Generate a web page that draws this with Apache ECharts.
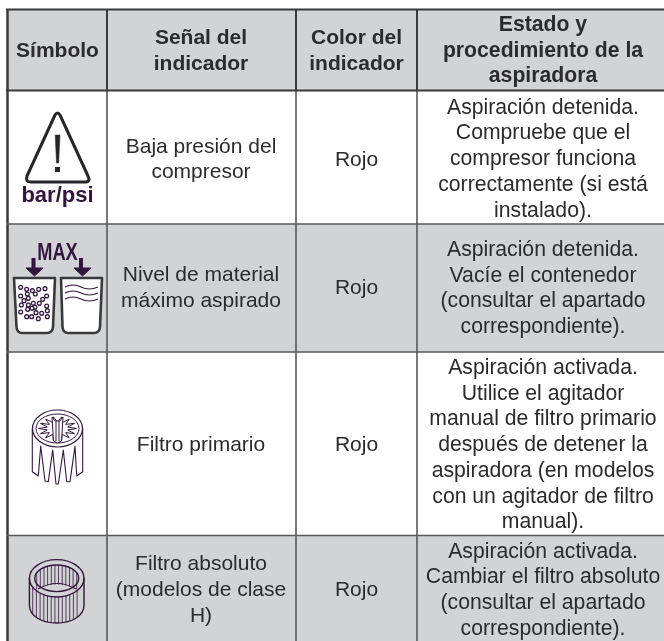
<!DOCTYPE html>
<html>
<head>
<meta charset="utf-8">
<style>html,body{margin:0;padding:0;background:#fff}#chart{width:664px;height:641px}</style>
<script src="https://cdn.jsdelivr.net/npm/echarts@6/dist/echarts.min.js"></script>
</head>
<body>
<div id="chart"></div>
<script>
var headers = [['Símbolo'], ['Señal del', 'indicador'], ['Color del', 'indicador'], ['Estado y', 'procedimiento de la', 'aspiradora']];
var signals = [['Baja presión del', 'compresor'], ['Nivel de material', 'máximo aspirado'], ['Filtro primario'], ['Filtro absoluto', '(modelos de clase', 'H)']];
var colors = ['Rojo', 'Rojo', 'Rojo', 'Rojo'];
var procedures = [
  ['Aspiración detenida.', 'Compruebe que el', 'compresor funciona', 'correctamente (si está', 'instalado).'],
  ['Aspiración detenida.', 'Vacíe el contenedor', '(consultar el apartado', 'correspondiente).'],
  ['Aspiración activada.', 'Utilice el agitador', 'manual de filtro primario', 'después de detener la', 'aspiradora (en modelos', 'con un agitador de filtro', 'manual).'],
  ['Aspiración activada.', 'Cambiar el filtro absoluto', '(consultar el apartado', 'correspondiente).']
];

// table layout
var colX = [8, 107, 296, 417, 664];
var colMid = [57.5, 201, 356.5, 543];
var rowY = [9.5, 90.5, 224, 352, 535.5, 641];
var textShift = [2.5, 0.5, 1.5, 2];
var GRAY = '#d1d3d4', INK = '#2b2a2c', ICON = '#35153f', RULE = '#58595b', DARK = '#3a3a3c';
var els = [];

function rect(x, y, w, h, fill) {
  els.push({type: 'rect', shape: {x: x, y: y, width: w, height: h}, style: {fill: fill}});
}
function line(x1, y1, x2, y2, w, c) {
  els.push({type: 'line', shape: {x1: x1, y1: y1, x2: x2, y2: y2}, style: {stroke: c || RULE, lineWidth: w}});
}
function label(txt, x, y, size, bold, fill, sx) {
  els.push({type: 'text', x: x, y: y, scaleX: sx || 1, style: {
    text: txt, x: 0, y: 0, fill: fill || INK, align: 'center', verticalAlign: 'middle',
    font: (bold ? 'bold ' : '') + size + 'px "Liberation Sans"'
  }});
}
function block(lines, cx, cy, size, bold, lh) {
  lines.forEach(function (t, i) {
    label(t, cx, cy + (i - (lines.length - 1) / 2) * lh, size, bold);
  });
}
function path(d, stroke, w, fill) {
  els.push({type: 'path', shape: {pathData: d}, style: {stroke: stroke || ICON, lineWidth: w || 1, fill: fill || 'none', lineJoin: 'round'}});
}
function ell(cx, cy, rx, ry, stroke, w, fill) {
  els.push({type: 'ellipse', shape: {cx: cx, cy: cy, rx: rx, ry: ry}, style: {stroke: stroke || ICON, lineWidth: w || 1, fill: fill || 'none'}});
}

// backgrounds
rect(colX[0], rowY[0], colX[4] - colX[0], rowY[1] - rowY[0], GRAY);
rect(colX[0], rowY[2], colX[4] - colX[0], rowY[3] - rowY[2], GRAY);
rect(colX[0], rowY[4], colX[4] - colX[0], rowY[5] - rowY[4], GRAY);

// header + body text
headers.forEach(function (h, c) {
  block(h, colMid[c], (rowY[0] + rowY[1]) / 2 + 1, c === 3 ? 21.2 : 21, true, 25.5);
});
for (var r = 0; r < 4; r++) {
  var cy = (rowY[r + 1] + rowY[r + 2]) / 2 + textShift[r];
  block(signals[r], colMid[1], cy, 21, false, 25.7);
  label(colors[r], colMid[2], cy, 21, false);
  block(procedures[r], colMid[3], cy - (r === 0 ? 0.5 : 0), 21.2, false, 25.7);
}

// grid lines
line(colX[0] - 0.5, rowY[0], colX[0] - 0.5, 641, 2.5, DARK);
for (var c = 1; c < 4; c++) {
  line(colX[c], rowY[0], colX[c], rowY[1], 2, DARK);
  line(colX[c], rowY[1], colX[c], 641, 1.6);
}
line(colX[0] - 2, rowY[0], 664, rowY[0], 2.2, DARK);
line(colX[0] - 2, rowY[1], 664, rowY[1], 2.2, DARK);
for (var i = 2; i < 5; i++) line(colX[0] - 1, rowY[i], 664, rowY[i], 1.6);

// icon 1: warning triangle
path('M55 115 L27 176 Q25 182 31 182 L85 182 Q91 182 88 176 L60 115 Q57.5 111 55 115 Z', '#26252a', 3);
path('M55.2 135 H60 L58.7 163 H56.5 Z', '#26252a', 0.5, '#26252a');
rect(55, 167, 5, 5, '#26252a');
label('bar/psi', 57.5, 195.5, 22, true, ICON);

// icon 2: MAX containers
label('MAX', 57.5, 253, 24, true, ICON, 0.76);
path('M33.5 258 V269 M81 258 V269', ICON, 4);
path('M26 268 H43 L34.5 276 Z M74 268 H91 L82.5 276 Z', ICON, 1, ICON);
path('M14 278 H55 L53 327 Q52.5 333 47 333 H22 Q17 333 16.5 327 Z', DARK, 2.6, '#fff');
path('M61 278 H102 L100 327 Q99.5 333 94 333 H68 Q63 333 62.5 327 Z', DARK, 2.6, '#fff');
var balls = [[62,52],[80,58],[97,62],[116,58],[135,56],[62,78],[82,72],[106,72],[128,88],[140,78],[72,92],[85,85],[100,100],[118,100],[64,105],[85,105],[105,112],[140,108],[62,126],[83,118],[96,115],[108,128],[125,130],[142,122],[80,140],[95,140],[115,146],[142,140]];
balls.forEach(function (b) { ell(b[0] / 3, 270 + b[1] / 3, 1.9, 1.9, ICON, 1.3, '#fff'); });
[287, 293, 299].forEach(function (y) {
  path('M65 ' + y + ' q8 -4 16 0 t17 0', ICON, 1.2);
});

// icon 3: primary filter
ell(57.5, 428.5, 25, 18.5, ICON, 1.2);
ell(57.5, 428.5, 21.5, 14.5, ICON, 1);
var star = [];
for (var s = 0; s < 28; s++) {
  var a = s / 28 * Math.PI * 2;
  var rr = s % 2 ? 0.55 : 1;
  star.push((s ? 'L' : 'M') + (57.5 + 19 * rr * Math.cos(a)).toFixed(1) + ' ' + (428.5 + 12 * rr * Math.sin(a)).toFixed(1));
}
path(star.join(' ') + ' Z', ICON, 1, '#fff');
path('M52 417 L55 421 L60 421 L63 417 L61.5 441 L57.5 443 L53.5 441 Z M56 421 V441 M59 421 V441', ICON, 1, '#fff');
var pleat = [[97,175],[97,305],[115,318],[122,228],[135,333],[145,335],[158,240],[168,342],[175,342],[190,240],[200,335],[210,335],[225,228],[230,318],[248,305],[248,175]];
path(pleat.map(function (p, n) { return (n ? 'L' : 'M') + (p[0] / 3).toFixed(1) + ' ' + (370 + p[1] / 3).toFixed(1); }).join(' '), ICON, 1.1);

// icon 4: absolute filter
var FX = 56.7, FY = 578.3;
ell(FX, FY, 27.3, 18.7, ICON, 1.4);
ell(FX, FY, 22, 13.3, ICON, 1.4);
path('M29.4 578 V605 C29.4 629 84 629 84 605 V578', ICON, 1.4);
path('M38 589 Q57 578 76 589', ICON, 1.2);
for (var x = FX - 20; x <= FX + 20.1; x += 3.64) {
  var t = (x - FX) / 22;
  var ribTop = FY - 13.3 * Math.sqrt(1 - t * t);
  path('M' + x.toFixed(1) + ' ' + ribTop.toFixed(1) + ' V' + (584.5 + 6 * t * t).toFixed(1), ICON, 0.8);
}
for (var x2 = FX - 24; x2 <= FX + 24.1; x2 += 3.7) {
  var u = (x2 - FX) / 27.3;
  var dy = Math.sqrt(1 - u * u);
  path('M' + x2.toFixed(1) + ' ' + (FY + 18.7 * dy).toFixed(1) + ' V' + (605 + 18 * dy).toFixed(1), ICON, 0.8);
}

var chart = echarts.init(document.getElementById('chart'), null, {renderer: 'canvas'});
chart.setOption({
  animation: false,
  series: [{
    type: 'custom',
    coordinateSystem: 'none',
    silent: true,
    data: [0],
    renderItem: function () {
      return {type: 'group', children: els};
    }
  }]
});
</script>
</body>
</html>
